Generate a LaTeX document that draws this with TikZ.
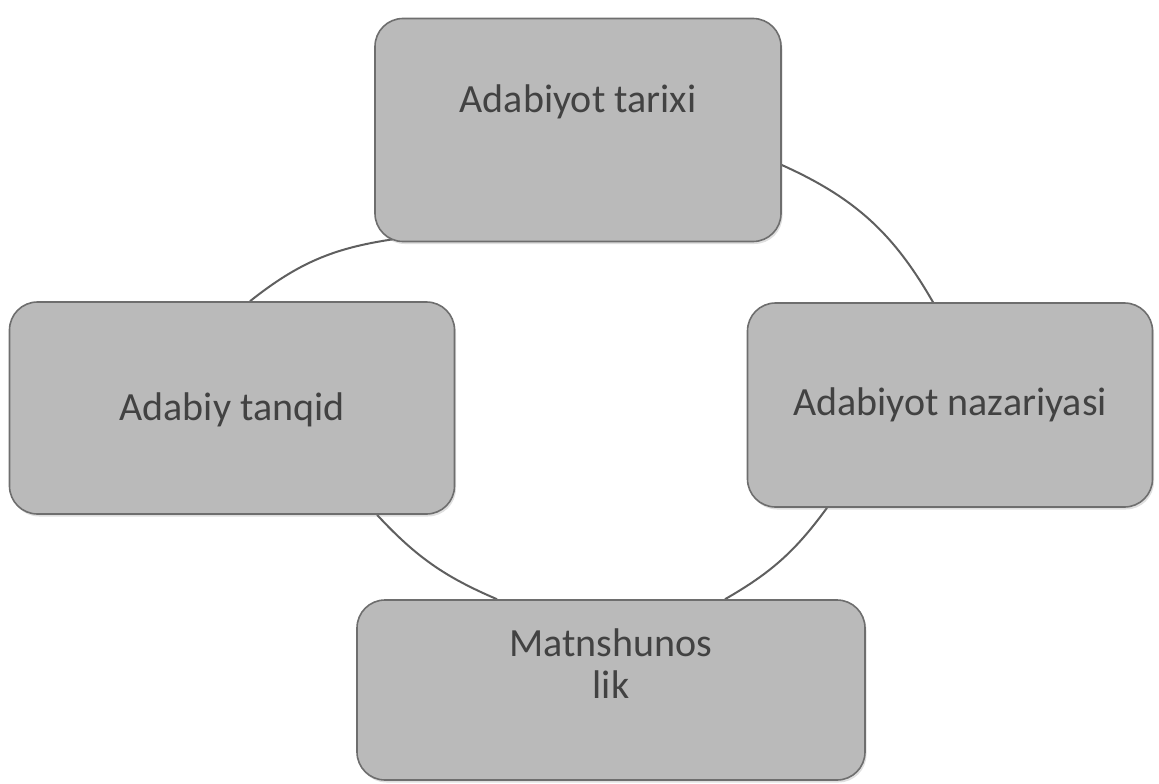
\documentclass[tikz,border=0pt]{standalone}
\usepackage{fontspec}
\setmainfont{Carlito}
\usetikzlibrary{backgrounds,shadows}
\definecolor{boxfill}{RGB}{186,186,186}
\definecolor{boxline}{RGB}{110,110,110}
\definecolor{txtc}{RGB}{66,66,66}
\definecolor{arcc}{RGB}{95,95,95}
\begin{document}
\begin{tikzpicture}[x=1pt,y=-1pt,
  box/.style={draw=boxline, line width=1.6pt, fill=boxfill, rounded corners=28pt,
    inner sep=0pt, drop shadow={opacity=0.25,shadow xshift=1.5pt,shadow yshift=-2.5pt}},
  lab/.style={font=\fontsize{40}{42}\selectfont, text=txtc, align=center},
  link/.style={draw=arcc, line width=2pt}]
\useasboundingbox (0,0) rectangle (1159,784);
\node[box, minimum width=406pt, minimum height=223pt,
  label={[lab, yshift=28pt]center:Adabiyot tarixi}] (top) at (578,130) {};
\node[box, minimum width=445pt, minimum height=212pt,
  label={[lab, yshift=-2pt]center:Adabiy tanqid}] (left) at (232,408) {};
\node[box, minimum width=405pt, minimum height=204pt,
  label={[lab]center:Adabiyot nazariyasi}] (right) at (950,405) {};
\node[box, minimum width=508pt, minimum height=180pt,
  label={[lab, yshift=26pt]center:Matnshunos\\lik}] (bottom) at (611,690) {};
\begin{scope}[on background layer]
\draw[link] ([yshift=-35pt]top.east) to[bend left=18] ([xshift=-17pt]right.north);
\draw[link] ([xshift=-123pt]right.south) to[bend left=12] ([xshift=114pt]bottom.north);
\draw[link] ([xshift=-114pt]bottom.north) to[bend left=12] ([xshift=145pt]left.south);
\draw[link] ([xshift=18pt]left.north) to[bend left=15] ([xshift=-185pt,yshift=3pt]top.south);
\end{scope}
\end{tikzpicture}
\end{document}
